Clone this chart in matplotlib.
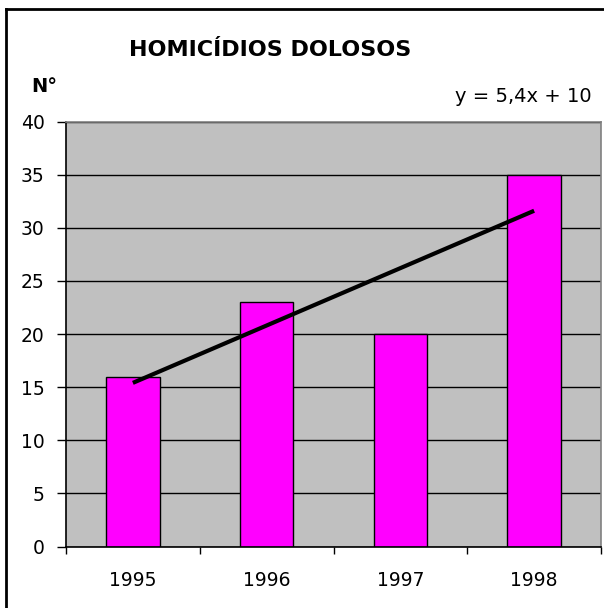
import matplotlib
matplotlib.use("Agg")
import matplotlib.pyplot as plt
from matplotlib.lines import Line2D
import numpy as np

years = ["1995", "1996", "1997", "1998"]
values = [16, 23, 20, 35]
trend_slope = 5.4
trend_intercept = 10
y_ticks = [0, 5, 10, 15, 20, 25, 30, 35, 40]

plt.rcParams['font.family'] = ['DejaVu Sans']

W, H = 604, 608
fig = plt.figure(figsize=(W/100, H/100), dpi=100)
fig.patch.set_facecolor('white')

L, R, T, B = 66, 601, 121.5, 546.5
ax = fig.add_axes([L/W, 1-B/H, (R-L)/W, (B-T)/H])
ax.set_facecolor('#c0c0c0')

x = np.arange(len(years))
ax.set_axisbelow(True)
ax.yaxis.grid(True, color='black', linewidth=1.0)
ax.bar(x, values, width=0.4, color='#ff00ff', edgecolor='black', linewidth=1.0, zorder=2)

xt = np.array([x[0], x[-1]], dtype=float)
ax.plot(xt, trend_slope*(xt+1) + trend_intercept, color='black', linewidth=3, zorder=3,
        solid_capstyle='butt')

ax.set_xlim(-0.5, len(years)-0.5)
ax.set_ylim(0, 40)
ax.set_yticks(y_ticks)
ax.set_yticklabels([str(v) for v in y_ticks], fontsize=13.5)
ax.set_xticks(np.arange(-0.5, len(years), 1.0))
ax.set_xticklabels([])
ax.set_xticks(x, minor=True)
ax.set_xticklabels(years, minor=True, fontsize=13.5)
ax.tick_params(axis='y', direction='out', length=6.5, width=1, color='black', pad=9)
ax.tick_params(axis='x', which='major', direction='out', length=5, width=1, color='black')
ax.tick_params(axis='x', which='minor', length=0, pad=18)

for s in ['top', 'right']:
    ax.spines[s].set_color('#808080')
    ax.spines[s].set_linewidth(1.2)
for s in ['left', 'bottom']:
    ax.spines[s].set_color('black')
    ax.spines[s].set_linewidth(1.2)

fig.text(270/W, 1-56/H, "HOMICÍDIOS DOLOSOS", ha='center', va='baseline',
         fontsize=16, fontweight='bold')
fig.text(31/W, 1-92/H, "N°", ha='left', va='baseline', fontsize=14, fontweight='bold')
fig.text(592/W, 1-102/H, "y = 5,4x + 10", ha='right', va='baseline', fontsize=14)

# outer chart frame
fig.add_artist(Line2D([6/W, 6/W], [0, 1-9/H], transform=fig.transFigure, color='black', linewidth=2))
fig.add_artist(Line2D([6/W, 1], [1-9/H, 1-9/H], transform=fig.transFigure, color='black', linewidth=2))

fig.savefig("out.png", dpi=100)
